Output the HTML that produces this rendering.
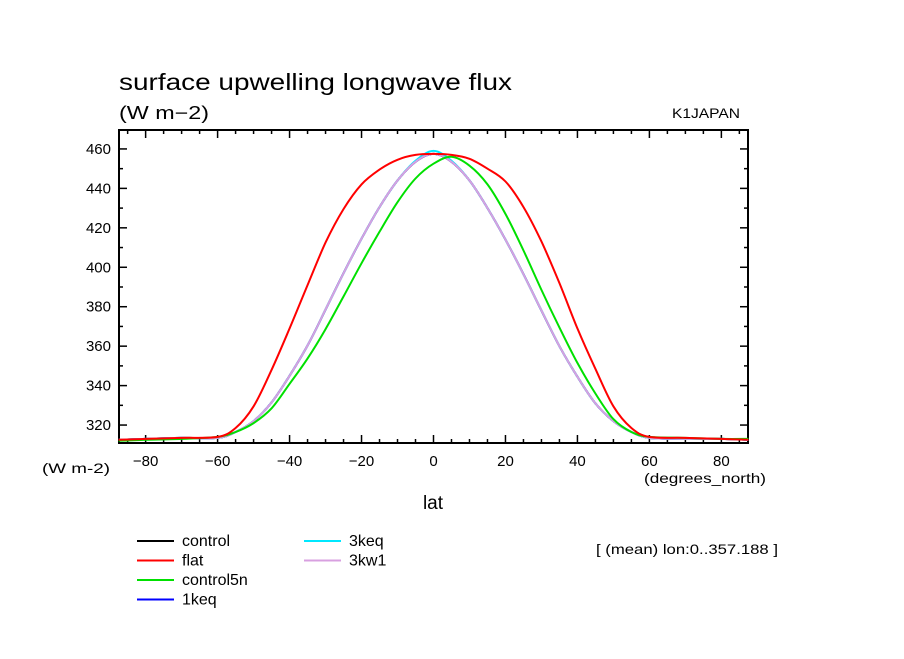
<!DOCTYPE html>
<html><head><meta charset="utf-8"><style>
body{margin:0;background:#fff;}
svg text{font-family:"Liberation Sans",sans-serif;fill:#000;}
</style></head><body>
<svg id="chart" width="904" height="654" viewBox="0 0 904 654" xmlns="http://www.w3.org/2000/svg">
<text x="119" y="90" font-size="23" textLength="393" lengthAdjust="spacingAndGlyphs">surface upwelling longwave flux</text>
<text x="119" y="119" font-size="18" textLength="90" lengthAdjust="spacingAndGlyphs">(W m−2)</text>
<text x="672" y="118" font-size="14" textLength="68" lengthAdjust="spacingAndGlyphs">K1JAPAN</text>
<text x="42" y="473" font-size="14" textLength="68" lengthAdjust="spacingAndGlyphs">(W m-2)</text>
<text x="644" y="483" font-size="14" textLength="122" lengthAdjust="spacingAndGlyphs">(degrees_north)</text>
<text x="433" y="509" font-size="19" text-anchor="middle">lat</text>
<text x="596" y="554" font-size="14" textLength="182" lengthAdjust="spacingAndGlyphs">[ (mean) lon:0..357.188 ]</text>
<g id="axes"></g>
<g id="series"></g>
<g id="legend"></g>
</svg>
<script>
const lats=[-87.5,-80,-70,-60,-55,-50,-45,-40,-35,-30,-25,-20,-15,-10,-5,0,5,10,15,20,25,30,35,40,45,50,55,60,70,80,87.5];
const controlVals=[312.5,313,313.5,313.5,316.5,322,331.5,345,360.4,378.5,397,414.5,430.5,444,453.5,457.5,453.5,444,430,414,396.5,378,360,344.5,331,322,316.5,313.5,313,313,312.5];
const flatVals=[312.5,313,313.5,314,318.5,329.5,348,369,391,412.5,429.5,442,449.5,454.5,457,457.5,457,455,450,443.5,430.5,413,392,369,348.5,329.5,318.5,314,313.5,313,312.5];
const control5nVals=[312,312.5,313,314,316.5,321,328.5,340.9,353.8,368.6,385.2,402,418,433,445,452.5,456,451.5,442,427,408.5,388.5,369.5,351.5,336,323,316.5,314,313.5,313,313];
const keq1Vals=[312.5,313,313.5,313.5,316.5,322,331.5,345,360.4,378.5,397,414.5,430.5,444,453.5,457.5,453.5,444,430,414,396.5,378,360,344.5,331,322,316.5,313.5,313,313,312.5];
const keq3Vals=[312.5,313,313.5,313.5,316.5,322,331.5,345,360.4,378.5,397,414.5,430.5,444,454,459,454,444,430,414,396.5,378,360,344.5,331,322,316.5,313.5,313,313,312.5];
const kw1Vals=[312.5,313,313.5,313.5,316.5,322,331.5,345,360.4,378.5,397,414.5,430.5,444,453.5,457.5,453.5,444,430,414,396.5,378,360,344.5,331,322,316.5,313.5,313,313,312.5];
const seriesNames=["control","flat","control5n","1keq","3keq","3kw1"];
const seriesColors=["#000000","#ff0000","#00e000","#0000ff","#00e8ff","#d8a0e0"];
const xTicks=[-80,-60,-40,-20,0,20,40,60,80];
const yTicks=[320,340,360,380,400,420,440,460];

const L=119,R=748,T=130,B=443;
const xMin=-87.4,xMax=87.4,yMin=310.9,yMax=469.6;
const NS="http://www.w3.org/2000/svg";
function sx(v){return L+(v-xMin)/(xMax-xMin)*(R-L);}
function sy(v){return B-(v-yMin)/(yMax-yMin)*(B-T);}
function mk(tag,attrs,parent){const e=document.createElementNS(NS,tag);for(const k in attrs)e.setAttribute(k,attrs[k]);parent.appendChild(e);return e;}
const axes=document.getElementById('axes');
const frame=mk('rect',{x:L,y:T,width:R-L,height:B-T,fill:'none',stroke:'#000','stroke-width':2},axes);


for(let v=-85;v<=85;v+=5){
  const len=(v%20===0)?8:4;const x=sx(v);
  const t1=mk('line',{x1:x,x2:x,y1:B,y2:B-len,stroke:'#000','stroke-width':1.5},axes);
  
  
  const t2=mk('line',{x1:x,x2:x,y1:T,y2:T+len,stroke:'#000','stroke-width':1.5},axes);
  
  
}
for(let v=320;v<=460;v+=10){
  const len=(v%20===0)?8:4;const y=sy(v);
  const t1=mk('line',{x1:L,x2:L+len,y1:y,y2:y,stroke:'#000','stroke-width':1.5},axes);
  
  
  const t2=mk('line',{x1:R,x2:R-len,y1:y,y2:y,stroke:'#000','stroke-width':1.5},axes);
  
  
}
xTicks.forEach(v=>{
  const t=mk('text',{x:sx(v),y:B+23,'font-size':15,'text-anchor':'middle'},axes);
  t.textContent=(v<0?'−':'')+Math.abs(v);
  
  
});
yTicks.forEach(v=>{
  const t=mk('text',{x:L-8,y:sy(v)+5,'font-size':15,'text-anchor':'end'},axes);
  t.textContent=v;
  
  
});
const seriesVals=[controlVals,flatVals,control5nVals,keq1Vals,keq3Vals,kw1Vals];
const sg=document.getElementById('series');
function smoothPath(xs,ys){
  const p=xs.map((x,i)=>[sx(x),sy(ys[i])]);
  let d='M'+p[0][0].toFixed(1)+','+p[0][1].toFixed(1);
  for(let i=0;i<p.length-1;i++){
    const p0=p[Math.max(0,i-1)],p1=p[i],p2=p[i+1],p3=p[Math.min(p.length-1,i+2)];
    const c1=[p1[0]+(p2[0]-p0[0])/6,p1[1]+(p2[1]-p0[1])/6];
    const c2=[p2[0]-(p3[0]-p1[0])/6,p2[1]-(p3[1]-p1[1])/6];
    d+=' C'+c1[0].toFixed(1)+','+c1[1].toFixed(1)+' '+c2[0].toFixed(1)+','+c2[1].toFixed(1)+' '+p2[0].toFixed(1)+','+p2[1].toFixed(1);
  }
  return d;
}
const order=[0,3,4,5,2,1];
order.forEach(i=>{
  const p=mk('path',{d:smoothPath(lats,seriesVals[i]),fill:'none',stroke:seriesColors[i],'stroke-width':2},sg);
  
  
});
const lg=document.getElementById('legend');
seriesNames.forEach((n,i)=>{
  const col=i<4?0:1,row=i<4?i:i-4;
  const x0=col?304:137,y=541+row*19.5;
  const g=mk('g',{},lg);
  
  
  mk('line',{x1:x0,x2:x0+37,y1:y,y2:y,stroke:seriesColors[i],'stroke-width':2},g);
  const t=mk('text',{x:x0+45,y:y+5,'font-size':16},g);
  t.textContent=n;
});
</script>
</body></html>
